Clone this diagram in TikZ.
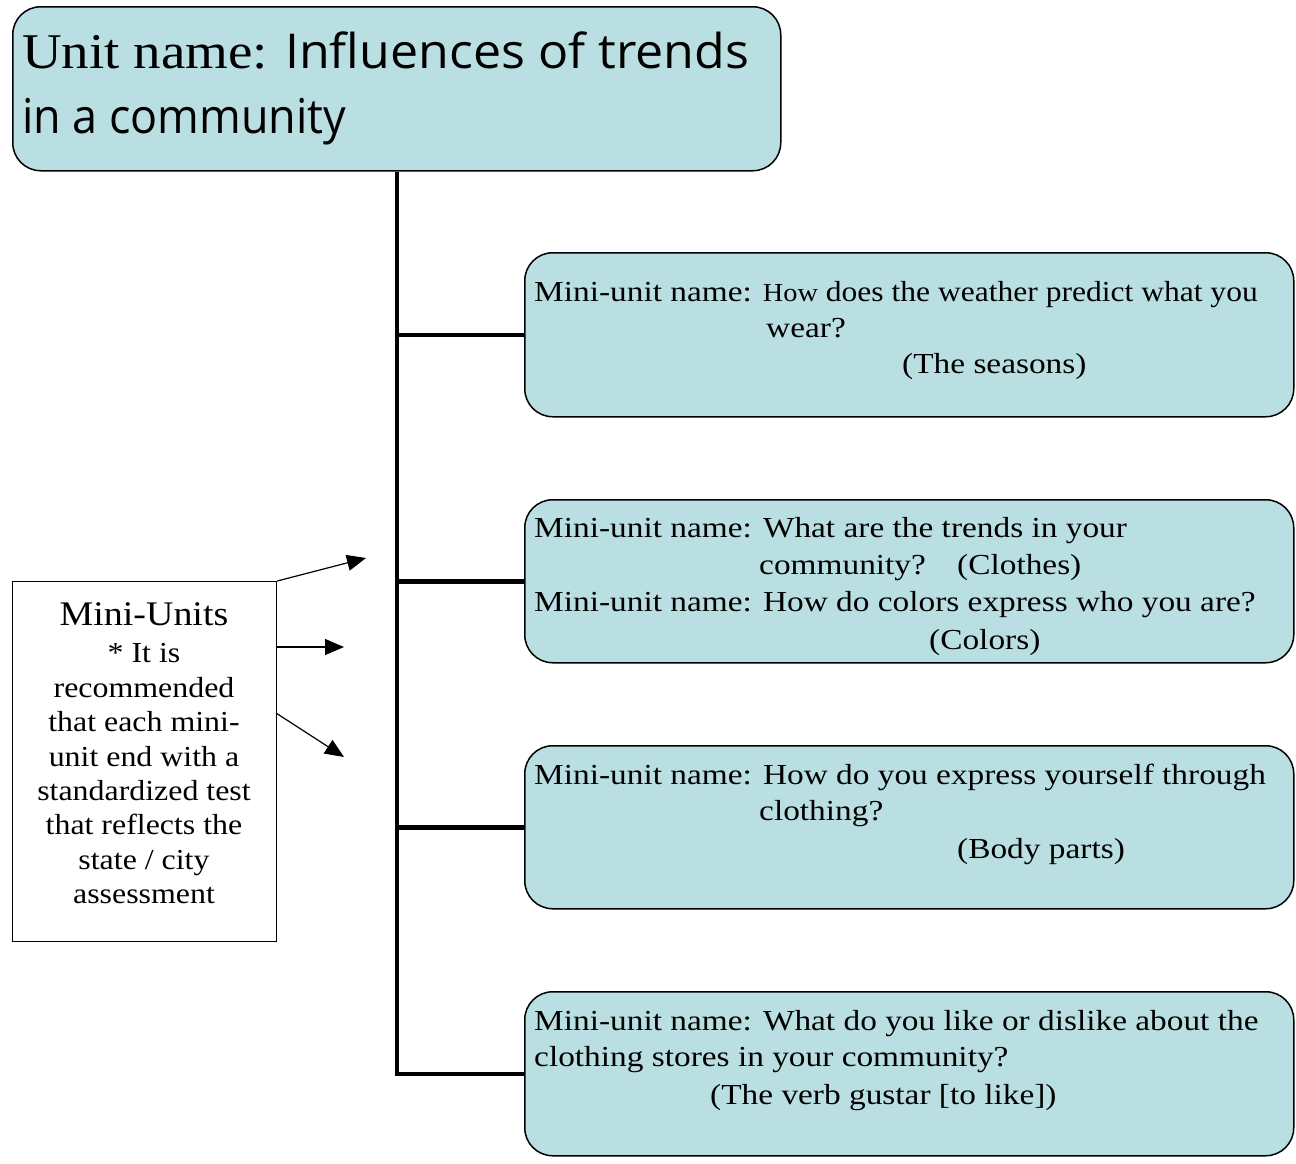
\documentclass[tikz,border=0pt]{standalone}
\usepackage{fontspec}
\setmainfont{Liberation Serif}[FakeStretch=1.1]
\newfontfamily\boxfont{Liberation Serif}[FakeStretch=1.15]
\newfontfamily\casualfont{Open Sans}
\usetikzlibrary{arrows.meta}
\definecolor{boxblue}{HTML}{BADFE3}
\begin{document}
\begin{tikzpicture}[x=1pt,y=-1pt,
  bluebox/.style={draw=black, line width=1.5pt, fill=boxblue, rounded corners=28pt, anchor=north west, inner sep=0pt},
  notebox/.style={draw=black, line width=1.2pt, fill=white, anchor=north west, inner sep=0pt},
  trunk/.style={line width=4.5pt, line join=miter},
  pointer/.style={line width=1.2pt, -{Triangle[length=19pt,width=16pt]}},
  txt/.style={anchor=base west, inner sep=0pt, font=\boxfont\fontsize{29}{34}\selectfont},
  ctxt/.style={anchor=base, inner sep=0pt, font=\fontsize{29}{34}\selectfont}]
\useasboundingbox (0,0) rectangle (1296,1163);
% boxes
\node[bluebox, minimum width=768pt, minimum height=164pt] (title) at (12,6) {};
\node[bluebox, minimum width=769pt, minimum height=164pt] (m1) at (524,252) {};
\node[bluebox, minimum width=769pt, minimum height=163pt] (m2) at (524,499) {};
\node[bluebox, minimum width=769pt, minimum height=163pt] (m3) at (524,745) {};
\node[bluebox, minimum width=769pt, minimum height=164pt] (m4) at (524,991) {};
\node[notebox, minimum width=264pt, minimum height=360pt] (note) at (12,581) {};
% trunk
\coordinate (tx) at (397,0);
\draw[trunk] (title.south -| tx) -- (tx |- m4.west) -- (m4.west);
\draw[trunk] (tx |- m1.west) -- (m1.west);
\draw[trunk] (tx |- m2.west) -- (m2.west);
\draw[trunk] (tx |- m3.west) -- (m3.west);
% arrows
\coordinate (a1) at (366,558);
\coordinate (a2) at (344,647);
\coordinate (a3) at (344,757);
\draw[pointer] (note.north east) -- (a1);
\draw[pointer] (note.east |- a2) -- (a2);
\draw[pointer] (276,713) coordinate (s3) -- (a3);
% title text
\node[anchor=base west, inner sep=0pt, font=\fontsize{50}{56}\selectfont] (t1a) at (22,68) {Unit name:};
\node[anchor=base west, inner sep=0pt] (t1b) at (285,68) {\casualfont\fontsize{48}{56}\selectfont\scalebox{1.044}[1]{Influences of trends}};
\node[anchor=base west, inner sep=0pt] (t2) at (22,133) {\casualfont\fontsize{48}{56}\selectfont\scalebox{0.935}[1]{in a community}};
% box 1
\node[txt] (m1a) at (534,301) {Mini-unit name: \scalebox{0.946}[1]{{\fontsize{26}{30}\selectfont How} does the weather predict what you}};
\node[txt] (m1b) at (766,337) {wear?};
\node[txt] (m1c) at (902,373) {(The seasons)};
% box 2
\node[txt] (m2a) at (534,537) {Mini-unit name: What are the trends in your};
\node[txt] (m2b) at (759,574) {community?};
\node[txt] (m2e) at (957,574) {(Clothes)};
\node[txt] (m2c) at (534,611) {Mini-unit name: How do colors express who you are?};
\node[txt] (m2d) at (929,649) {(Colors)};
% box 3
\node[txt] (m3a) at (534,784) {Mini-unit name: How do you express yourself through};
\node[txt] (m3b) at (759,820) {clothing?};
\node[txt] (m3c) at (957,858) {(Body parts)};
% box 4
\node[txt] (m4a) at (534,1030) {Mini-unit name: What do you like or dislike about the};
\node[txt] (m4b) at (534,1066) {clothing stores in your community?};
\node[txt] (m4c) at (710,1104) {(The verb gustar [to like])};
% note text
\node[anchor=base, inner sep=0pt, font=\fontsize{34.5}{40}\selectfont] (n0) at (144,625) {Mini-Units};
\node[ctxt] (n1) at (144,662) {* It is};
\node[ctxt] (n2) at (144,697) {recommended};
\node[ctxt] (n3) at (144,731) {that each mini-};
\node[ctxt] (n4) at (144,766) {unit end with a};
\node[ctxt] (n5) at (144,800) {standardized test};
\node[ctxt] (n6) at (144,834) {that reflects the};
\node[ctxt] (n7) at (144,869) {state / city};
\node[ctxt] (n8) at (144,903) {assessment};
\end{tikzpicture}
\end{document}
